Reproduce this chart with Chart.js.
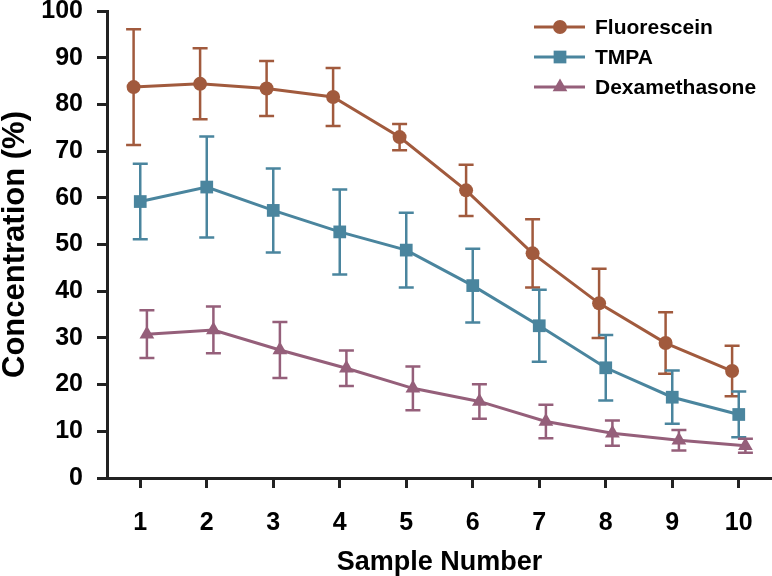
<!DOCTYPE html>
<html>
<head>
<meta charset="utf-8">
<script src="https://cdn.jsdelivr.net/npm/chart.js@4/dist/chart.umd.min.js"></script>
<style>
  body { margin: 0; background: #fff; }
  canvas { display: block; }
</style>
</head>
<body>
<canvas id="myChart" width="772" height="576"></canvas>
<script>
// sample numbers on the x axis
const samples = [1, 2, 3, 4, 5, 6, 7, 8, 9, 10];
const yTicks = [0, 10, 20, 30, 40, 50, 60, 70, 80, 90, 100];

// mean concentration (%) and error (+/-) per sample
const fluorescein = [83.7, 84.4, 83.4, 81.6, 73.0, 61.6, 48.1, 37.4, 28.9, 22.9];
const fluoresceinErr = [12.4, 7.6, 5.9, 6.2, 2.8, 5.5, 7.3, 7.4, 6.6, 5.4];
const tmpa = [59.2, 62.3, 57.3, 52.7, 48.8, 41.2, 32.6, 23.6, 17.3, 13.6];
const tmpaErr = [8.1, 10.8, 9.0, 9.1, 8.0, 7.9, 7.7, 7.0, 5.7, 4.9];
const dexamethasone = [30.8, 31.7, 27.4, 23.5, 19.2, 16.4, 12.1, 9.6, 8.1, 6.9];
const dexamethasoneErr = [5.1, 5.0, 6.0, 3.8, 4.7, 3.7, 3.6, 2.7, 2.2, 1.5];

const seriesNames = ['Fluorescein', 'TMPA', 'Dexamethasone'];
const colors = ['#a15a3d', '#4a859e', '#955f7a'];
const shapes = ['circle', 'rect', 'triangle'];
const radii = [7, 9, 8.5];
const dodge = [-0.1, 0, 0.1];

const means = [fluorescein, tmpa, dexamethasone];
const errs = [fluoresceinErr, tmpaErr, dexamethasoneErr];

const datasets = means.map((vals, i) => ({
    label: seriesNames[i],
    data: vals.map((v, j) => ({ x: samples[j] + dodge[i], y: v })),
    err: errs[i],
    borderColor: colors[i],
    backgroundColor: colors[i],
    borderWidth: 3,
    pointStyle: shapes[i],
    pointRadius: radii[i],
    pointBorderWidth: 0,
    tension: 0
}));

// error bars, drawn under the markers
const errorBars = {
    id: 'errorBars',
    beforeDatasetsDraw(chart) {
        const ctx = chart.ctx;
        const yScale = chart.scales.y;
        chart.data.datasets.forEach((ds, i) => {
            const meta = chart.getDatasetMeta(i);
            ctx.save();
            ctx.strokeStyle = ds.borderColor;
            ctx.lineWidth = 2.5;
            meta.data.forEach((pt, j) => {
                const v = ds.data[j].y;
                const top = yScale.getPixelForValue(v + ds.err[j]);
                const bot = yScale.getPixelForValue(v - ds.err[j]);
                ctx.beginPath();
                ctx.moveTo(pt.x, top);
                ctx.lineTo(pt.x, bot);
                ctx.moveTo(pt.x - 7.5, top);
                ctx.lineTo(pt.x + 7.5, top);
                ctx.moveTo(pt.x - 7.5, bot);
                ctx.lineTo(pt.x + 7.5, bot);
                ctx.stroke();
            });
            ctx.restore();
        });
    }
};

// legend in the top right corner: line with marker, then the name
const lineLegend = {
    id: 'lineLegend',
    afterDraw(chart) {
        const ctx = chart.ctx;
        chart.data.datasets.forEach((ds, i) => {
            const y = 27 + i * 30;
            ctx.save();
            ctx.strokeStyle = ds.borderColor;
            ctx.lineWidth = 3;
            ctx.beginPath();
            ctx.moveTo(534, y);
            ctx.lineTo(585, y);
            ctx.stroke();
            ctx.fillStyle = ds.backgroundColor;
            Chart.helpers.drawPoint(ctx, { pointStyle: ds.pointStyle, radius: ds.pointRadius, borderWidth: 0 }, 560, y);
            ctx.fillStyle = '#000';
            ctx.font = 'bold 21px "Liberation Sans", Arial, sans-serif';
            ctx.textBaseline = 'middle';
            ctx.fillText(ds.label, 595, y + 1);
            ctx.restore();
        });
    }
};

const tickFont = { family: '"Liberation Sans", Arial, sans-serif', size: 25, weight: 'bold' };

const ctx = document.getElementById('myChart').getContext('2d');
new Chart(ctx, {
    type: 'line',
    data: { datasets: datasets },
    options: {
        responsive: false,
        animation: false,
        layout: { autoPadding: false, padding: { top: 11, right: 0, bottom: 0, left: 0 } },
        plugins: {
            legend: { display: false },
            tooltip: { enabled: false }
        },
        scales: {
            x: {
                type: 'linear',
                min: 0.5,
                max: 10.5,
                afterBuildTicks: s => { s.ticks = samples.map(v => ({ value: v })); },
                afterFit: s => { s.height = 98; s.paddingLeft = 0; s.paddingRight = 0; },
                border: { display: true, width: 3, color: '#222' },
                grid: { drawOnChartArea: false, drawTicks: true, tickLength: 10, tickWidth: 3, tickColor: '#222' },
                ticks: { color: '#000', font: tickFont, padding: 20, maxRotation: 0 },
                title: {
                    display: true,
                    text: 'Sample Number',
                    color: '#000',
                    font: { family: '"Liberation Sans", Arial, sans-serif', size: 27, weight: 'bold', lineHeight: 1 },
                    padding: { top: 0, bottom: 0 }
                }
            },
            y: {
                min: 0,
                max: 100,
                afterBuildTicks: s => { s.ticks = yTicks.map(v => ({ value: v })); },
                afterFit: s => { s.width = 107; s.paddingTop = 0; s.paddingBottom = 0; },
                border: { display: true, width: 3, color: '#222' },
                grid: { drawOnChartArea: false, drawTicks: true, tickLength: 10, tickWidth: 3, tickColor: '#222' },
                ticks: { color: '#000', font: tickFont, padding: 14 },
                title: {
                    display: true,
                    text: 'Concentration (%)',
                    color: '#000',
                    font: { family: '"Liberation Sans", Arial, sans-serif', size: 31, weight: 'bold', lineHeight: 1 },
                    padding: { top: 0, bottom: 0 }
                }
            }
        }
    },
    plugins: [errorBars, lineLegend]
});
</script>
</body>
</html>
